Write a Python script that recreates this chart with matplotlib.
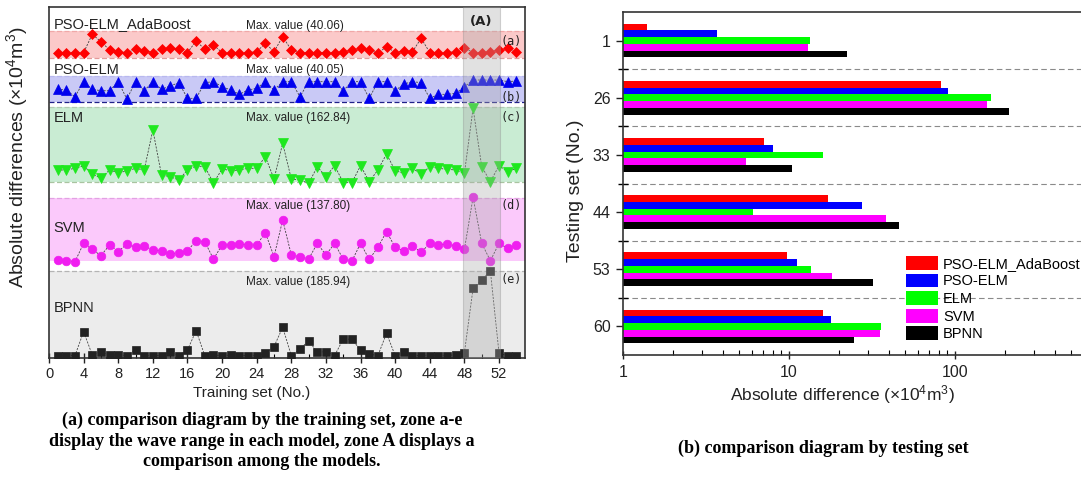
import numpy as np
import matplotlib
matplotlib.use('Agg')
import matplotlib.pyplot as plt
from matplotlib.patches import Patch
from matplotlib.ticker import MultipleLocator, FixedLocator, NullFormatter

plt.rcParams['font.family'] = ['Liberation Sans', 'DejaVu Sans']
plt.rcParams['mathtext.fontset'] = 'custom'
plt.rcParams['mathtext.rm'] = 'Liberation Sans'
plt.rcParams['mathtext.it'] = 'Liberation Sans:italic'
plt.rcParams['mathtext.bf'] = 'Liberation Sans:bold'

# ---------------- data: training set (a) ----------------
training_no = np.arange(1, 55)
models = ['PSO-ELM_AdaBoost', 'PSO-ELM', 'ELM', 'SVM', 'BPNN']
adaboost = [9.5, 9.5, 9.5, 9.5, 40.06, 27.8, 13.9, 11.1, 9.5, 15.0,
            12.8, 9.5, 15.0, 17.8, 15.0, 9.5, 28.9, 15.0, 22.3, 9.5,
            9.5, 9.5, 9.5, 11.1, 25.0, 11.1, 36.2, 13.9, 9.5, 9.5,
            9.5, 9.5, 9.5, 11.1, 13.9, 16.7, 13.9, 8.4, 19.5, 9.5,
            12.8, 11.1, 33.4, 9.5, 9.5, 9.5, 11.1, 17.8, 9.5, 9.5,
            11.1, 13.9, 16.7, 11.1]
psoelm = [22.8, 21.6, 9.2, 37.0, 22.8, 20.3, 20.3, 37.0, 4.9, 37.0,
          20.3, 37.0, 22.8, 29.0, 35.1, 6.2, 6.2, 35.1, 37.0, 27.7,
          21.6, 13.6, 21.6, 24.6, 37.0, 21.6, 37.0, 37.0, 9.2, 37.0,
          37.0, 37.0, 37.0, 20.3, 37.0, 37.0, 6.2, 37.0, 37.0, 20.3,
          32.7, 37.0, 35.1, 6.2, 13.6, 13.6, 15.4, 27.7, 40.05, 40.0,
          40.0, 40.0, 37.0, 38.2]
elm = [31.9, 31.9, 35.4, 40.4, 23.4, 14.2, 31.9, 26.2, 29.7, 35.4,
       31.9, 116.8, 21.2, 17.7, 10.6, 31.9, 40.4, 38.9, 4.2, 34.0,
       30.4, 31.9, 35.4, 35.4, 60.2, 12.7, 88.5, 12.7, 10.6, 3.5,
       38.9, 17.7, 41.1, 5.0, 5.0, 41.1, 7.1, 31.9, 65.8, 30.4,
       24.8, 35.4, 23.4, 38.9, 35.4, 33.3, 31.9, 24.8, 162.84, 38.9,
       7.1, 41.1, 28.3, 35.4]
svm = [10.2, 8.8, 6.8, 44.1, 31.9, 19.0, 40.7, 27.2, 42.8, 36.0,
       38.7, 30.5, 28.5, 21.7, 25.1, 29.2, 48.9, 47.5, 12.2, 40.7,
       40.7, 42.1, 40.7, 40.7, 65.8, 17.0, 91.6, 20.4, 17.0, 12.2,
       44.1, 20.4, 44.1, 11.5, 8.1, 44.1, 11.5, 36.0, 67.9, 36.0,
       28.5, 38.7, 25.8, 44.1, 40.7, 42.8, 38.7, 31.9, 137.80, 44.1,
       8.8, 44.1, 33.9, 40.7]
bpnn = [5.7, 5.7, 5.7, 56.8, 7.1, 14.2, 7.1, 7.1, 5.7, 17.7,
        5.7, 5.7, 5.7, 12.8, 5.7, 17.7, 58.9, 5.7, 7.1, 5.7,
        7.1, 5.7, 5.7, 5.7, 10.6, 24.8, 66.0, 5.7, 19.2, 37.6,
        12.8, 14.2, 5.7, 41.2, 40.5, 17.7, 9.2, 5.7, 53.2, 5.7,
        12.8, 5.7, 5.7, 5.7, 5.7, 5.7, 7.8, 12.1, 149.0, 166.8,
        185.94, 10.6, 5.7, 5.7]
max_values = [40.06, 40.05, 162.84, 137.80, 185.94]
zone_labels = ['(a)', '(b)', '(c)', '(d)', '(e)']
zone_A = (47.8, 52.1)

# ---------------- data: testing set (b) ----------------
testing_sets = ['1', '26', '33', '44', '53', '60']
test_adaboost = [1.39, 82.3, 7.07, 17.1, 9.77, 16.1]
test_psoelm = [3.70, 91.2, 7.97, 27.7, 11.2, 17.8]
test_elm = [13.3, 164.0, 16.1, 6.1, 13.5, 35.8]
test_svm = [13.1, 156.6, 5.48, 38.4, 18.2, 35.3]
test_bpnn = [22.3, 211.5, 10.47, 45.8, 32.2, 24.6]

# ---------------- figure ----------------
W, H = 1081, 484
fig = plt.figure(figsize=(W / 100, H / 100), dpi=100)


def rect(l, t, r, b):
    return [l / W, 1 - b / H, (r - l) / W, (b - t) / H]


# ======== left chart ========
axL = fig.add_axes(rect(49, 7, 525, 358))
axL.set_xlim(0, 55)
axL.set_ylim(0, 351)

series = [adaboost, psoelm, elm, svm, bpnn]
# layout per panel: base level, peak level, band lo/hi, colours, marker
layout = [
    dict(base=299.7, peak=323.7, band=(300, 327), fill='#fbc9c9', top='#f0a8a8', bot='#e39a9a',
         marker='D', ms=4.6, color='#ff0000', lab_y=334, max_y=332, z_y=317),
    dict(base=256.3, peak=278.0, band=(256, 282), fill='#c9c9f6', top='#b8b8ee', bot='#20208a',
         marker='^', ms=6.8, color='#0000ee', lab_y=288, max_y=288, z_y=261),
    dict(base=173.0, peak=249.7, band=(176, 251), fill='#c9ecd3', top='#b4c9b4', bot='#a9c4a0',
         marker='v', ms=6.8, color='#1ee81e', lab_y=240, max_y=240, z_y=241),
    dict(base=93.0, peak=160.7, band=(97, 160), fill='#fbc9fb', top='#e2a2e2', bot=None,
         marker='o', ms=6.2, color='#f01ef0', lab_y=130, max_y=152, z_y=152),
    dict(base=-0.3, peak=87.0, band=(0, 87), fill='#ececec', top='#b4b4b4', bot=None,
         marker='s', ms=5.4, color='#222222', lab_y=50, max_y=76, z_y=78),
]

for name, vals, mv, zl, L in zip(models, series, max_values, zone_labels, layout):
    lo, hi = L['band']
    axL.axhspan(lo, hi, color=L['fill'], lw=0, zorder=0)
    axL.axhline(hi, color=L['top'], ls=(0, (4, 2)), lw=0.9, zorder=1)
    if L['bot']:
        axL.axhline(lo, color=L['bot'], ls=(0, (4, 2)), lw=0.9, zorder=1)
    yv = L['base'] + np.asarray(vals) * (L['peak'] - L['base']) / mv
    axL.plot(training_no, yv, ls=(0, (2.5, 1.5)), lw=0.6, color='#444444', zorder=2)
    axL.plot(training_no, yv, ls='none', marker=L['marker'], ms=L['ms'],
             mfc=L['color'], mec=L['color'], mew=0.5, zorder=3)
    axL.text(0.5, L['lab_y'], name, fontsize=10.5, ha='left', va='center', color='#222222', zorder=6)
    axL.text(22.8, L['max_y'], 'Max. value (%.2f)' % mv, fontsize=8.5, ha='left', va='center',
             color='#222222', zorder=6)
    axL.text(53.4, L['z_y'], zl, fontsize=8.5, ha='center', va='center',
             family='DejaVu Sans Mono', color='#222222', zorder=6)

axL.axvspan(zone_A[0], zone_A[1], facecolor='#a9a9a9', alpha=0.35, edgecolor='#8c8c8c',
            lw=0.8, zorder=5)
axL.text(sum(zone_A) / 2, 337, '(A)', fontsize=9.5, fontweight='bold', ha='center', va='center',
         family='DejaVu Sans', color='#222222', zorder=6)

axL.set_yticks([])
axL.xaxis.set_major_locator(MultipleLocator(4))
axL.xaxis.set_minor_locator(MultipleLocator(2))
axL.tick_params(axis='x', which='major', direction='inout', length=7, width=1.0,
                labelsize=10.5, pad=3, colors='#222222')
axL.tick_params(axis='x', which='minor', direction='in', length=3, width=0.8)
for s in axL.spines.values():
    s.set_linewidth(1.2)
    s.set_color('#333333')

# ======== right chart ========
axR = fig.add_axes(rect(623, 12, 1121, 355))
axR.set_xscale('log')
axR.set_xlim(1, 1000)
axR.set_ylim(5.5, -0.5)

pos = np.arange(len(testing_sets))
bar_series = [test_adaboost, test_psoelm, test_elm, test_svm, test_bpnn]
bar_colors = ['#ff0000', '#0000ff', '#00ff00', '#ff00ff', '#000000']
bh = 0.118
for j, (vals, c) in enumerate(zip(bar_series, bar_colors)):
    axR.barh(pos + (j - 2) * bh, vals, height=bh, color=c, lw=0, zorder=2)

for b in np.arange(0.5, len(testing_sets) - 0.5, 1.0):
    axR.axhline(b, color='#8a8a8a', ls=(0, (5, 3)), lw=0.8, zorder=1)

axR.set_yticks(pos)
axR.set_yticklabels(testing_sets)
axR.yaxis.set_minor_locator(FixedLocator(np.arange(0.5, len(testing_sets) - 0.5, 1.0)))
axR.tick_params(axis='y', which='major', direction='inout', length=10, width=1.0,
                labelsize=11.5, pad=4, colors='#222222')
axR.tick_params(axis='y', which='minor', direction='inout', length=7, width=1.0)
axR.xaxis.set_major_locator(FixedLocator([1, 10, 100]))
axR.set_xticklabels(['1', '10', '100'])
axR.xaxis.set_minor_formatter(NullFormatter())
axR.tick_params(axis='x', which='major', direction='inout', length=6, width=1.0,
                labelsize=11.5, pad=4, colors='#222222')
axR.tick_params(axis='x', which='minor', direction='in', length=3.5, width=0.8)
axR.spines['right'].set_visible(False)
for s in ['left', 'top', 'bottom']:
    axR.spines[s].set_linewidth(1.2)
    axR.spines[s].set_color('#333333')

handles = [Patch(facecolor=c, edgecolor='none') for c in bar_colors]
fig.legend(handles, models, loc='upper left', bbox_to_anchor=(906 / W, 1 - 256 / H),
           frameon=False, borderpad=0, borderaxespad=0, handlelength=2.2,
           handleheight=1.07, labelspacing=0.19, handletextpad=0.35, fontsize=10.5)

# ======== labels & captions ========
fig.text(17 / W, 1 - 157 / H, r'Absolute differences (×10$^4$m$^3$)', rotation=90,
         ha='center', va='center', fontsize=14, color='#222222')
fig.text(252 / W, 1 - 393 / H, 'Training set (No.)', ha='center', va='center',
         fontsize=11, color='#222222')
fig.text(576 / W, 1 - 191 / H, 'Testing set (No.)', rotation=90, ha='center', va='center',
         fontsize=14, color='#222222')
fig.text(842 / W, 1 - 395 / H, r'Absolute difference (×10$^4$m$^3$)', ha='center',
         va='center', fontsize=12.5, color='#222222')

fig.text(262 / W, 1 - 441 / H,
         '(a) comparison diagram by the training set, zone a-e\n'
         'display the wave range in each model, zone A displays a\n'
         'comparison among the models.',
         ha='center', va='center', multialignment='center', family='Liberation Serif',
         fontweight='bold', fontsize=13, linespacing=1.25)
fig.text(823 / W, 1 - 448 / H, '(b) comparison diagram by testing set', ha='center',
         va='center', family='Liberation Serif', fontweight='bold', fontsize=13)

fig.savefig('out.png', dpi=100)
